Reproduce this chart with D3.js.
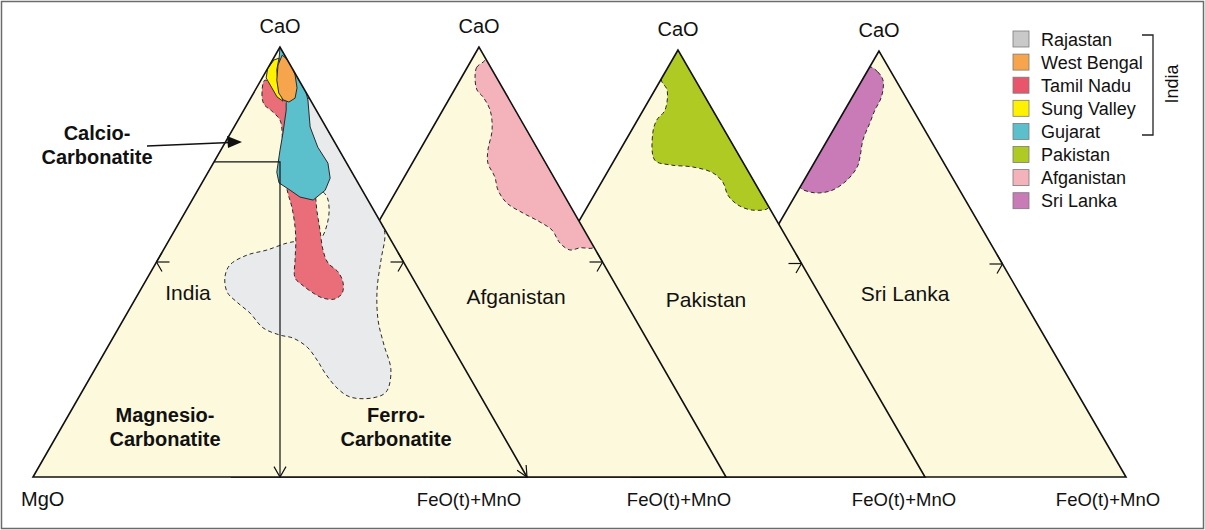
<!DOCTYPE html>
<html>
<head>
<meta charset="utf-8">
<script src="https://cdn.jsdelivr.net/npm/d3@7"></script>
<style>
  body { margin: 0; background: #fff; }
  text { font-family: 'Liberation Sans', Arial, sans-serif; fill: #111; }
</style>
</head>
<body>
<div id="chart"></div>
<script>
// every ternary point is [CaO, FeO(t)+MnO] in %, MgO is the rest
const panels = ['India', 'Afganistan', 'Pakistan', 'Sri Lanka']
const apexLabel = 'CaO'
const leftLabel = 'MgO'
const rightLabel = 'FeO(t)+MnO'

const legendNames = ['Rajastan', 'West Bengal', 'Tamil Nadu', 'Sung Valley', 'Gujarat', 'Pakistan', 'Afganistan', 'Sri Lanka']
const indiaGroup = 'India'

// CaO limit of the calcio-carbonatite field, Mg = Fe split below it
const calcioLimit = 73.3

const rajastan = [[88.1, 11.9], [80, 20], [70, 30], [58.6, 41.4], [56.3, 43.1], [50.5, 45.2], [43.5, 47.9],
  [36.5, 51.6], [30.7, 55.7], [24.9, 60], [19.8, 61.6], [18.4, 59.6], [18.6, 54.9], [20.7, 51.2], [24.2, 47],
  [27.2, 43.9], [30.2, 40.4], [32.3, 36.5], [33, 33.5], [34.7, 29.2], [38.1, 24.9], [40.7, 20.9], [43, 17.8],
  [46.5, 15.6], [49.3, 15.2], [51.6, 17.5], [52.8, 21], [54.4, 24.2], [54.9, 26.6], [55.1, 30.1], [55.8, 30.6],
  [58.6, 30.2], [62.1, 28.9], [65.1, 27], [66.7, 25.2], [76, 18.5], [85.3, 12.2]]
const tamilNadu = [[92.3, 0.8], [89.5, 1.6], [86.7, 3.4], [85.1, 5.8], [83, 8.5], [79.5, 10.7], [73.7, 13.4],
  [66, 18.6], [62.8, 21], [58.1, 24], [54.4, 26], [50.5, 27.8], [46.3, 29.9], [44.7, 32.1], [42.8, 35.3],
  [41.6, 37.9], [41.4, 40.4], [42.8, 41.2], [45.3, 40.1], [47.7, 37.9], [49.8, 34.8], [52.8, 32.3], [57.4, 29.4],
  [62.1, 26.4], [65.6, 24.3], [76, 16], [85.3, 9.4], [88.8, 5.6]]
const gujarat = [[100, 0], [89.5, 10.5], [87.7, 11.8], [81.4, 15.4], [76.7, 19.3], [73, 23.2], [69.5, 25.4],
  [66.7, 25.8], [64.4, 24.5], [65.1, 21.5], [66.7, 18.7], [68.4, 15.6], [70.9, 13.9], [76, 12], [80, 10.6],
  [85.3, 8.6], [87.7, 7.4], [91.2, 4.4], [97, 1.3]]
const sungValley = [[95, 0], [92.8, 0.8], [90.5, 3.1], [88.4, 5.2], [87.4, 6.9], [91.6, 3.8], [94.7, 2],
  [97.4, 1.1], [97, 0.3]]
const westBengal = [[98.1, 1.4], [96.5, 3.8], [93.5, 6.3], [90.5, 8.2], [88.1, 9], [87.2, 8.2], [87.7, 6.8],
  [89.3, 5.1], [92.3, 3.2], [95.8, 1.7]]
const afganistan = [[96.5, 2.6], [95.3, 1.9], [93, 2.7], [90, 4.6], [88.4, 6.6], [85.3, 9.6], [80.7, 12.3],
  [76, 13.8], [73, 15.3], [69.8, 18.3], [66.7, 20.5], [63.7, 23.8], [61.4, 28.2], [59.3, 32.7], [57.4, 36.1],
  [54.4, 39.2], [52.8, 42], [53.3, 43.8], [53.5, 46.5], [70, 30], [85, 15], [97, 3]]
const pakistan = [[100, 0], [93.2, 0], [90.6, 2.5], [85.9, 4.4], [83.6, 3.9], [80.6, 4.6], [74.2, 8.2],
  [73.1, 11.8], [72.6, 16.7], [71.2, 21.5], [68.9, 24.7], [66, 27.1], [63.7, 30.3], [62.5, 33.9], [63.2, 36.8],
  [75, 25], [88, 12]]
const sriLanka = [[96.2, 0], [95.1, 2.2], [93.2, 4.2], [90.8, 5.4], [88.5, 6], [86.2, 6.1], [83.1, 6.6],
  [79.1, 7.2], [75.1, 8.6], [72.8, 9.2], [69.7, 8.7], [67.4, 7], [66.7, 4.7], [66.9, 2.6], [68.1, 0], [80, 0], [90, 0]]

// drawing order inside each triangle (bottom first)
const regions = [
  {name: 'Rajastan', panel: 0, points: rajastan, smooth: true, dashed: true},
  {name: 'Tamil Nadu', panel: 0, points: tamilNadu, smooth: true, dashed: true},
  {name: 'Gujarat', panel: 0, points: gujarat, smooth: false, dashed: false},
  {name: 'Sung Valley', panel: 0, points: sungValley, smooth: false, dashed: false},
  {name: 'West Bengal', panel: 0, points: westBengal, smooth: false, dashed: false},
  {name: 'Afganistan', panel: 1, points: afganistan, smooth: true, dashed: true},
  {name: 'Pakistan', panel: 2, points: pakistan, smooth: true, dashed: true},
  {name: 'Sri Lanka', panel: 3, points: sriLanka, smooth: true, dashed: true}
]

const fillColor = {
  'Rajastan': '#e9eaeb', 'West Bengal': '#f6a54c', 'Tamil Nadu': '#ea6d7a', 'Sung Valley': '#fff200',
  'Gujarat': '#5bbfcc', 'Pakistan': '#afca22', 'Afganistan': '#f4b3ba', 'Sri Lanka': '#c87bb7'
}
const legendColor = ['#c9c9c9', '#f6a54c', '#e9566c', '#fff200', '#5bbfcc', '#afca22', '#f4b3ba', '#c87bb7']

// layout
const width = 1205
const height = 530
const side = 494
const baseY = 477
const panelLeft = [33, 232, 431, 632]
const panelHeight = [430, 430, 427, 426]
const panelLabelPos = [[188, 300], [516, 304], [706, 307], [905, 301]]
const feoLabelX = [469, 679, 904, 1108]
const triFill = '#fdf9dc'

const svg = d3.select('#chart').append('svg')
  .attr('width', width)
  .attr('height', height)

svg.append('rect')
  .attr('x', 1.5).attr('y', 1.5)
  .attr('width', width - 3).attr('height', height - 3)
  .attr('fill', '#fff')
  .attr('stroke', '#6b6b6b')
  .attr('stroke-width', 1.5)

const defs = svg.append('defs')

function ternary(i) {
  const x = d3.scaleLinear().domain([0, 100]).range([panelLeft[i], panelLeft[i] + side])
  const y = d3.scaleLinear().domain([0, 100]).range([baseY, baseY - panelHeight[i]])
  return p => [x(p[1] + p[0] / 2), y(p[0])]
}

function arrowHead(g, tip, angle, len, spread) {
  const b1 = [tip[0] - len * Math.cos(angle - spread), tip[1] - len * Math.sin(angle - spread)]
  const b2 = [tip[0] - len * Math.cos(angle + spread), tip[1] - len * Math.sin(angle + spread)]
  g.append('path')
    .attr('d', 'M' + b1 + 'L' + tip + 'L' + b2)
    .attr('fill', 'none')
    .attr('stroke', '#111')
    .attr('stroke-width', 1.2)
}

function drawPanel(i) {
  const proj = ternary(i)
  const g = svg.append('g')
  const corners = [[100, 0], [0, 0], [0, 100]].map(proj)
  const tri = 'M' + corners.join('L') + 'Z'

  defs.append('clipPath').attr('id', 'clip' + i)
    .append('path').attr('d', tri)

  g.append('path').attr('d', tri).attr('fill', triFill)

  const pg = g.append('g').attr('clip-path', 'url(#clip' + i + ')')
  regions.filter(r => r.panel === i).forEach(r => {
    const line = d3.line()
      .curve(r.smooth ? d3.curveCatmullRomClosed.alpha(0.5) : d3.curveLinearClosed)
    pg.append('path')
      .attr('d', line(r.points.map(proj)))
      .attr('fill', fillColor[r.name])
      .attr('stroke', '#2a2a2a')
      .attr('stroke-width', 1)
      .attr('stroke-dasharray', r.dashed ? '4,3' : null)
  })

  if (i === 0) {
    const a = proj([calcioLimit, 0])
    const b = proj([calcioLimit, (100 - calcioLimit) / 2])
    const c = proj([0, 50])
    g.append('path')
      .attr('d', 'M' + a + 'L' + b + 'L' + c)
      .attr('fill', 'none')
      .attr('stroke', '#111')
      .attr('stroke-width', 1.2)
    arrowHead(g, c, Math.PI / 2, 12, Math.PI / 6)
  }

  g.append('path').attr('d', tri)
    .attr('fill', 'none')
    .attr('stroke', '#111')
    .attr('stroke-width', 1.6)
    .attr('stroke-linejoin', 'miter')

  // direction ticks at the mid-height of the sides
  const rt = proj([50, 50])
  g.append('line')
    .attr('x1', rt[0] - 13).attr('y1', rt[1]).attr('x2', rt[0]).attr('y2', rt[1])
    .attr('stroke', '#111').attr('stroke-width', 1.2)
  arrowHead(g, rt, 0, 11, Math.PI / 3)
  if (i === 0) {
    const lt = proj([50, 0])
    g.append('line')
      .attr('x1', lt[0]).attr('y1', lt[1]).attr('x2', lt[0] + 13).attr('y2', lt[1])
      .attr('stroke', '#111').attr('stroke-width', 1.2)
    arrowHead(g, lt, Math.PI, 11, Math.PI / 3)
    const br = proj([0, 100])
    arrowHead(g, br, Math.atan2(panelHeight[0], side / 2), 12, Math.PI / 7)
  }

  const apex = proj([100, 0])
  g.append('text')
    .attr('x', apex[0]).attr('y', apex[1] - 14)
    .attr('text-anchor', 'middle')
    .attr('font-size', 20)
    .text(apexLabel)

  g.append('text')
    .attr('x', panelLabelPos[i][0]).attr('y', panelLabelPos[i][1])
    .attr('text-anchor', 'middle')
    .attr('font-size', 21)
    .text(panels[i])
}

for (let i = panels.length - 1; i >= 0; i--) drawPanel(i)

// axis corner labels
svg.append('text')
  .attr('x', 21).attr('y', 506)
  .attr('font-size', 20)
  .text(leftLabel)

svg.selectAll('.feo')
  .data(feoLabelX)
  .enter().append('text')
  .attr('class', 'feo')
  .attr('x', d => d).attr('y', 506)
  .attr('text-anchor', 'middle')
  .attr('font-size', 18.5)
  .text(rightLabel)

// field names in the India triangle
const fieldLabels = [
  {lines: ['Calcio-', 'Carbonatite'], x: 97, y: 140},
  {lines: ['Magnesio-', 'Carbonatite'], x: 165, y: 422},
  {lines: ['Ferro-', 'Carbonatite'], x: 396, y: 422}
]
fieldLabels.forEach(f => {
  f.lines.forEach((t, k) => {
    svg.append('text')
      .attr('x', f.x).attr('y', f.y + k * 24)
      .attr('text-anchor', 'middle')
      .attr('font-size', 20)
      .attr('font-weight', 'bold')
      .text(t)
  })
})

// pointer to the calcio field
svg.append('line')
  .attr('x1', 147).attr('y1', 146).attr('x2', 230).attr('y2', 142.5)
  .attr('stroke', '#111').attr('stroke-width', 1.3)
svg.append('path')
  .attr('d', 'M242,142 L227,136 L228,148 Z')
  .attr('fill', '#111')

// legend
const legend = svg.append('g').attr('transform', 'translate(1013,31)')
const rowStep = 23.1
legend.selectAll('rect')
  .data(legendNames)
  .enter().append('rect')
  .attr('x', 0).attr('y', (d, k) => k * rowStep)
  .attr('width', 16).attr('height', 16)
  .attr('fill', (d, k) => legendColor[k])
  .attr('stroke', '#7a7a7a')
  .attr('stroke-width', 0.8)
legend.selectAll('text')
  .data(legendNames)
  .enter().append('text')
  .attr('x', 28).attr('y', (d, k) => k * rowStep + 14.5)
  .attr('font-size', 18)
  .text(d => d)

legend.append('path')
  .attr('d', 'M129,4 H140 V104 H129')
  .attr('fill', 'none')
  .attr('stroke', '#222')
  .attr('stroke-width', 1.3)
legend.append('text')
  .attr('transform', 'translate(165,53) rotate(-90)')
  .attr('text-anchor', 'middle')
  .attr('font-size', 18)
  .text(indiaGroup)
</script>
</body>
</html>
